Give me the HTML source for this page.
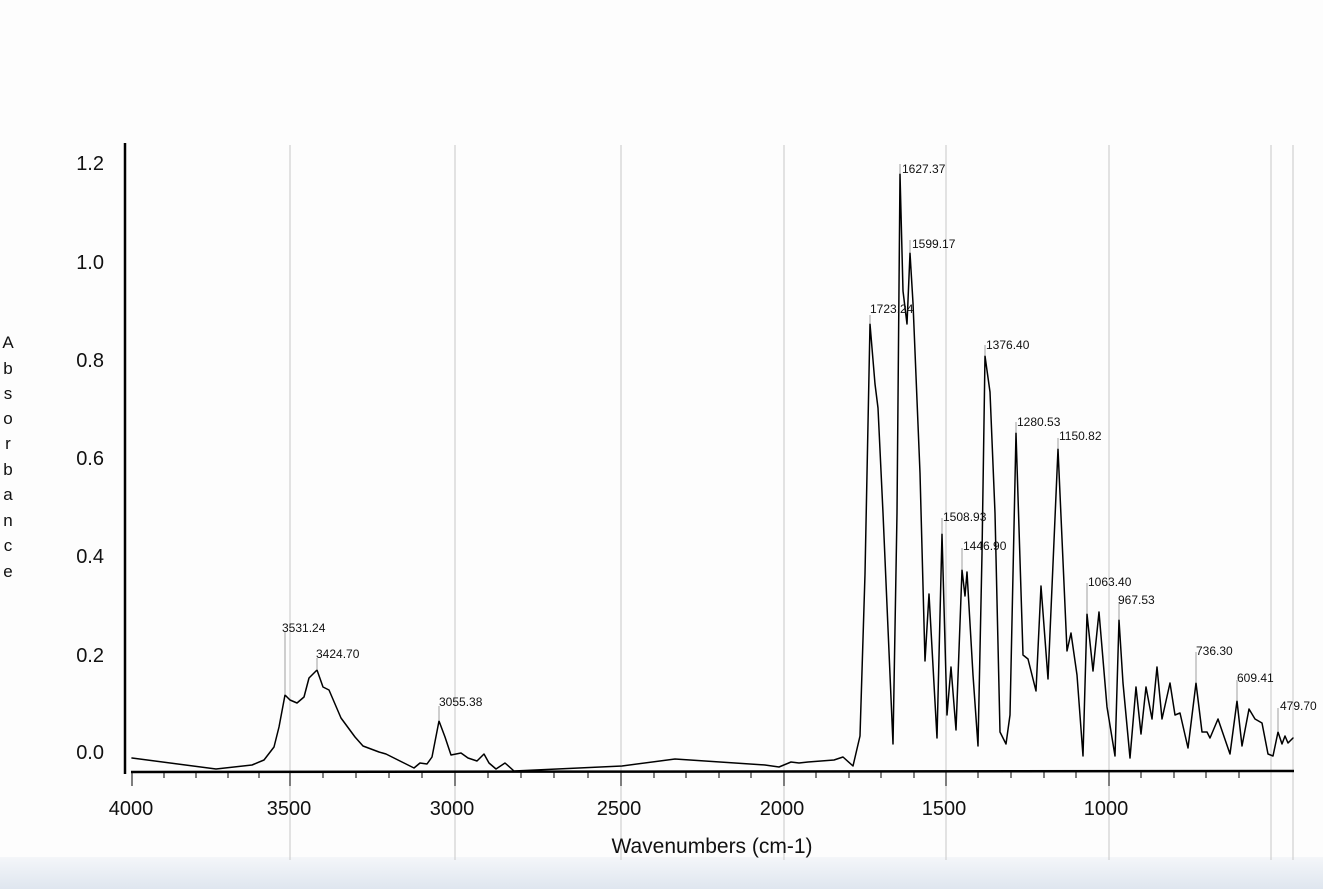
<!DOCTYPE html>
<html><head><style>
html,body{margin:0;padding:0;background:#fff;}
svg{display:block;font-family:"Liberation Sans",sans-serif;}
</style></head><body>
<svg width="1323" height="889" viewBox="0 0 1323 889" xmlns="http://www.w3.org/2000/svg">
<defs><linearGradient id="bg" x1="0" y1="0" x2="0" y2="1"><stop offset="0" stop-color="#f4f6f9"/><stop offset="1" stop-color="#dfe6ef"/></linearGradient></defs>
<rect width="1323" height="889" fill="#fdfdfd"/>
<rect y="857" width="1323" height="32" fill="url(#bg)"/>
<g stroke="#c8c8c8" stroke-width="1">
<line x1="290" y1="145" x2="290" y2="860"/>
<line x1="455" y1="145" x2="455" y2="860"/>
<line x1="621" y1="145" x2="621" y2="860"/>
<line x1="784" y1="145" x2="784" y2="860"/>
<line x1="946" y1="145" x2="946" y2="860"/>
<line x1="1109" y1="145" x2="1109" y2="860"/>
<line x1="1271" y1="145" x2="1271" y2="860"/>
<line x1="1293" y1="145" x2="1293" y2="860"/>
</g>
<line x1="125" y1="143" x2="125" y2="774" stroke="#000" stroke-width="2.5"/>
<line x1="131" y1="772" x2="1294" y2="771" stroke="#000" stroke-width="2.5"/>
<g stroke="#000" stroke-width="1">
<line x1="132" y1="772" x2="132" y2="786"/><line x1="290" y1="772" x2="290" y2="786"/><line x1="455" y1="772" x2="455" y2="786"/><line x1="621" y1="772" x2="621" y2="786"/><line x1="784" y1="772" x2="784" y2="786"/><line x1="946" y1="772" x2="946" y2="786"/><line x1="1109" y1="772" x2="1109" y2="786"/>
<line x1="164" y1="772" x2="164" y2="778"/><line x1="196" y1="772" x2="196" y2="778"/><line x1="228" y1="772" x2="228" y2="778"/><line x1="259" y1="772" x2="259" y2="778"/>
<line x1="323" y1="772" x2="323" y2="778"/><line x1="356" y1="772" x2="356" y2="778"/><line x1="389" y1="772" x2="389" y2="778"/><line x1="422" y1="772" x2="422" y2="778"/>
<line x1="488" y1="772" x2="488" y2="778"/><line x1="521" y1="772" x2="521" y2="778"/><line x1="554" y1="772" x2="554" y2="778"/><line x1="588" y1="772" x2="588" y2="778"/>
<line x1="654" y1="772" x2="654" y2="778"/><line x1="686" y1="772" x2="686" y2="778"/><line x1="719" y1="772" x2="719" y2="778"/><line x1="751" y1="772" x2="751" y2="778"/>
<line x1="816" y1="772" x2="816" y2="778"/><line x1="849" y1="772" x2="849" y2="778"/><line x1="881" y1="772" x2="881" y2="778"/><line x1="914" y1="772" x2="914" y2="778"/>
<line x1="978" y1="772" x2="978" y2="778"/><line x1="1011" y1="772" x2="1011" y2="778"/><line x1="1044" y1="772" x2="1044" y2="778"/><line x1="1076" y1="772" x2="1076" y2="778"/>
<line x1="1141" y1="772" x2="1141" y2="778"/><line x1="1174" y1="772" x2="1174" y2="778"/><line x1="1206" y1="772" x2="1206" y2="778"/><line x1="1239" y1="772" x2="1239" y2="778"/>
</g>
<g font-size="20" fill="#111" text-anchor="end">
<text x="104" y="170">1.2</text><text x="104" y="269">1.0</text><text x="104" y="367">0.8</text><text x="104" y="465">0.6</text><text x="104" y="563">0.4</text><text x="104" y="662">0.2</text><text x="104" y="759">0.0</text>
</g>
<g font-size="20" fill="#111" text-anchor="middle">
<text x="131" y="815">4000</text><text x="289" y="815">3500</text><text x="452" y="815">3000</text><text x="619" y="815">2500</text><text x="782" y="815">2000</text><text x="944" y="815">1500</text><text x="1106" y="815">1000</text>
<text x="712" y="853" font-size="21">Wavenumbers (cm-1)</text>
</g>
<g font-size="17" fill="#111" text-anchor="middle">
<text x="8" y="348">A</text><text x="8" y="374">b</text><text x="8" y="399">s</text><text x="8" y="424">o</text><text x="8" y="449">r</text><text x="8" y="475">b</text><text x="8" y="500">a</text><text x="8" y="526">n</text><text x="8" y="551">c</text><text x="8" y="577">e</text>
</g>
<polyline fill="none" stroke="#000" stroke-width="1.5" stroke-linejoin="round" stroke-linecap="round" points="
132,758 216,769 252,765 264,760 274,747 279,727 285,695 290,700 297,703 304,697 309,678 317,670 323,687 329,690 341,718 355,737 363,746 371,749 379,752 386,754 404,763 414,768 420,763 427,764 432,757 439,721 445,737 451,755 461,753 468,758 477,761 484,754 489,763 496,769 505,763 514,771
622,766 675,759 765,765 779,767 791,762 799,763 808,762 834,760 843,757 853,766 860,736 865,574 870,324 875,384 878,408 883,513 893,744 897,513 900,174 903,291 907,324 910,253 913,303 920,473 925,661 929,594 937,738 942,534 947,715 951,667 956,730 962,570 965,596 967,572 973,675 978,746 982,554 985,356 990,392 995,513 1000,732 1006,744 1010,715 1016,433 1023,655 1028,659 1036,691 1041,586 1048,679 1058,449 1067,651 1071,633 1077,675 1083,756 1087,614 1093,671 1099,612 1107,707 1115,756 1119,620 1123,683 1130,758 1136,687 1141,734 1146,687 1152,719 1157,667 1162,719 1170,683 1175,715 1180,713 1188,748 1196,683 1202,732 1207,732 1210,738 1218,719 1230,754 1237,701 1242,746 1249,709 1255,719 1262,723 1268,754 1273,756 1278,732 1282,744 1285,736 1288,743 1293,738"/>
<g stroke="#888" stroke-width="0.8">
<line x1="900" y1="174" x2="900" y2="164"/><line x1="910" y1="253" x2="910" y2="240"/><line x1="870" y1="324" x2="870" y2="315"/><line x1="985" y1="356" x2="985" y2="345"/><line x1="1016" y1="433" x2="1016" y2="422"/><line x1="1058" y1="449" x2="1058" y2="438"/><line x1="942" y1="534" x2="942" y2="518"/><line x1="962" y1="570" x2="962" y2="548"/><line x1="1087" y1="614" x2="1087" y2="583"/><line x1="1119" y1="620" x2="1119" y2="602"/><line x1="1196" y1="683" x2="1196" y2="652"/><line x1="1237" y1="701" x2="1237" y2="680"/><line x1="1278" y1="732" x2="1278" y2="708"/><line x1="285" y1="695" x2="285" y2="632"/><line x1="317" y1="670" x2="317" y2="658"/><line x1="439" y1="721" x2="439" y2="706"/>
</g>
<g font-size="12" fill="#111">
<text x="902" y="173">1627.37</text><text x="912" y="248">1599.17</text><text x="870" y="313">1723.24</text><text x="986" y="349">1376.40</text><text x="1017" y="426">1280.53</text><text x="1059" y="440">1150.82</text><text x="943" y="521">1508.93</text><text x="963" y="550">1446.90</text><text x="1088" y="586">1063.40</text><text x="1118" y="604">967.53</text><text x="1196" y="655">736.30</text><text x="1237" y="682">609.41</text><text x="1280" y="710">479.70</text><text x="282" y="632">3531.24</text><text x="316" y="658">3424.70</text><text x="439" y="706">3055.38</text>
</g>
</svg>
</body></html>
